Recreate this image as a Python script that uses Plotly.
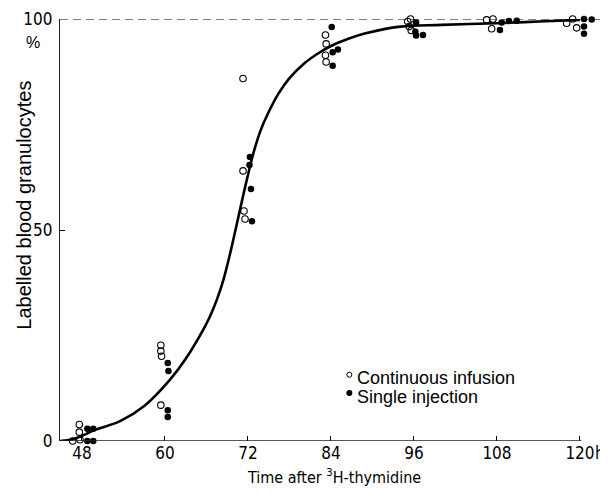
import plotly.graph_objects as go

# ---- data ----
# Continuous infusion (open circles): hours, percent labelled
cont_h = [47.61, 47.61, 46.66, 47.71,
          59.4, 59.4, 59.5, 59.4,
          71.28, 71.28, 71.42, 71.57,
          83.2, 83.3, 83.2, 83.3,
          95.1, 95.5, 95.3, 95.6,
          106.5, 107.42, 107.23,
          118.07, 118.94, 119.52]
cont_v = [3.9, 2.1, 0.0, 0.3,
          22.7, 21.3, 20.1, 8.5,
          85.9, 64.0, 54.5, 52.6,
          96.2, 94.1, 91.4, 89.8,
          99.4, 100.0, 98.2, 97.3,
          99.8, 100.0, 97.7,
          99.0, 100.0, 97.9]

# Single injection (filled circles)
single_h = [48.77, 49.63, 48.77, 49.63,
            60.4, 60.5, 60.4, 60.4,
            72.28, 72.22, 72.43, 72.58,
            84.1, 85.0, 84.24, 84.24,
            96.3, 96.2, 96.3, 97.3,
            108.43, 108.68, 109.73, 110.85,
            120.58, 120.58, 120.58, 121.69]
single_v = [2.9, 2.9, 0.0, 0.0,
            18.5, 16.6, 7.3, 5.7,
            67.3, 65.4, 59.7, 52.1,
            98.1, 92.8, 92.1, 88.9,
            99.2, 97.0, 96.1, 96.2,
            97.4, 99.2, 99.5, 99.6,
            100.0, 98.2, 96.5, 99.9]

# Fitted curve
curve_h = [44.82, 47.0, 50.0, 53.5, 57.0, 60.7, 63.0, 65.5, 66.5, 67.5, 68.5,
           69.5, 70.6, 71.7, 72.8, 73.8, 74.8, 76.4, 78.0, 80.0, 82.0, 84.0,
           86.5, 89.0, 94.0, 100.0, 108.0, 114.0, 120.0]
curve_v = [0.0, 0.6, 2.7, 4.7, 8.3, 14.5, 19.5, 26.3, 29.5, 33.5, 38.5,
           45.0, 53.0, 61.0, 68.3, 73.5, 77.3, 82.3, 86.0, 89.3, 91.7, 93.6,
           95.3, 96.6, 98.2, 98.6, 99.0, 99.4, 99.8]

x_ticks = [48, 60, 72, 84, 96, 108, 120]
y_ticks = [0, 50, 100]

NARROW = "Liberation Sans Narrow, Arial Narrow, DejaVu Sans Condensed, sans-serif"
REG = "Liberation Sans, Arial, Helvetica, sans-serif"

fig = go.Figure()

fig.add_trace(go.Scatter(x=curve_h, y=curve_v, mode="lines",
                         line=dict(color="black", width=2.6, shape="spline", smoothing=1.0),
                         hoverinfo="skip", showlegend=False, cliponaxis=False))

fig.add_trace(go.Scatter(x=cont_h, y=cont_v, mode="markers", name="Continuous infusion",
                         marker=dict(symbol="circle-open", size=6.5, color="black",
                                     line=dict(width=1.1, color="black")),
                         showlegend=False, cliponaxis=False))
fig.add_trace(go.Scatter(x=single_h, y=single_v, mode="markers", name="Single injection",
                         marker=dict(symbol="circle", size=6.5, color="black"),
                         showlegend=False, cliponaxis=False))

shapes = [
    # dashed 100 % line
    dict(type="line", xref="x", yref="y", x0=44.82, x1=123.2, y0=100, y1=100,
         line=dict(color="black", width=1, dash="8px,5px")),
    # x axis line
    dict(type="line", xref="x", yref="y", x0=44.82, x1=120.2, y0=0, y1=0,
         line=dict(color="#222", width=1.4)),
    # legend symbols
    dict(type="circle", xref="paper", yref="paper", xsizemode="pixel", ysizemode="pixel",
         xanchor=0.528, yanchor=0.157, x0=-2.5, x1=2.5, y0=-2.5, y1=2.5,
         line=dict(color="black", width=1)),
    dict(type="circle", xref="paper", yref="paper", xsizemode="pixel", ysizemode="pixel",
         xanchor=0.528, yanchor=0.114, x0=-3, x1=3, y0=-3, y1=3,
         fillcolor="black", line=dict(color="black", width=0)),
]

annotations = [
    dict(text="Continuous infusion", xref="paper", yref="paper", x=0.538, y=0.150,
         xanchor="left", yanchor="middle", showarrow=False,
         font=dict(family=REG, size=18, color="black")),
    dict(text="Single injection", xref="paper", yref="paper", x=0.538, y=0.104,
         xanchor="left", yanchor="middle", showarrow=False,
         font=dict(family=REG, size=18, color="black")),
    dict(text="Labelled blood granulocytes", xref="paper", yref="paper", x=-0.0657, y=0.56,
         xanchor="center", yanchor="middle", textangle=-90, showarrow=False,
         font=dict(family=REG, size=20, color="black")),
    dict(text="%", xref="paper", yref="paper", x=-0.049, y=0.944,
         xanchor="center", yanchor="middle", showarrow=False,
         font=dict(family=REG, size=16, color="black")),
    dict(text="Time after <sup>3</sup>H-thymidine", xref="paper", yref="paper", x=0.5, y=-0.085,
         xanchor="center", yanchor="middle", showarrow=False,
         font=dict(family=NARROW, size=16, color="black")),
    dict(text="h", xref="x", yref="paper", x=120, y=0, xshift=14, yshift=-12,
         xanchor="left", yanchor="middle", showarrow=False, borderpad=0,
         font=dict(family=NARROW, size=17, color="black")),
]

# The page body adds an 8 px margin, so the figure is sized 600x488
# to fill the 608x496 window exactly.
fig.update_layout(
    template="none",
    width=600, height=488,
    margin=dict(l=52, r=0, t=10.5, b=54.5, autoexpand=False),
    paper_bgcolor="white", plot_bgcolor="white",
    shapes=shapes, annotations=annotations,
    xaxis=dict(range=[44.82, 124.05], tickvals=x_ticks, ticktext=[str(v) for v in x_ticks],
               ticks="inside", ticklen=5, tickwidth=1, tickcolor="black",
               showline=False, showgrid=False, zeroline=False, automargin=False,
               tickfont=dict(family=NARROW, size=17, color="black")),
    yaxis=dict(range=[0, 100], tickvals=y_ticks, ticktext=[str(v) for v in y_ticks],
               ticks="inside", ticklen=5, tickwidth=1, tickcolor="black",
               showline=True, linecolor="#222", linewidth=1.4,
               showgrid=False, zeroline=False, automargin=False,
               ticklabelstandoff=3,
               tickfont=dict(family=NARROW, size=17, color="black")),
)

fig.write_html("out.html")
